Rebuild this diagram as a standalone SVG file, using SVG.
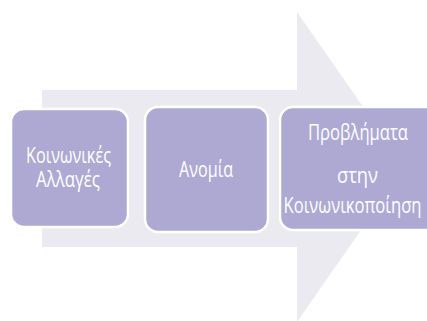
<svg xmlns="http://www.w3.org/2000/svg" width="427" height="321" viewBox="0 0 427 321">
<style>
.box{fill:#ada9d3;stroke:#ffffff;stroke-width:2.5}
.t{font-family:"Open Sans","Noto Sans","DejaVu Sans",sans-serif;font-size:22px;fill:#ffffff;text-anchor:middle}
</style>
<rect width="427" height="321" fill="#ffffff"/>
<g id="connectors">
<polygon points="42,90 297,90 297,12 405,167 297,322 297,247 42,247" fill="#ebeaf0"/>
</g>
<g id="node1">
<rect class="box" x="11" y="109" width="117" height="118" rx="13"/>
<text class="t" x="68.5" y="163" textLength="85" lengthAdjust="spacingAndGlyphs">Κοινωνικές</text>
<text class="t" x="68" y="187" textLength="64" lengthAdjust="spacingAndGlyphs">Αλλαγές</text>
</g>
<g id="node2">
<rect class="box" x="145" y="107" width="123" height="125" rx="13"/>
<text class="t" x="206" y="177" textLength="54" lengthAdjust="spacingAndGlyphs">Ανομία</text>
</g>
<g id="node3">
<path class="box" d="M293,107 H440 V230 H293 A13,13 0 0 1 280,217 V120 A13,13 0 0 1 293,107 Z"/>
<text class="t" x="358" y="140" textLength="100" lengthAdjust="spacingAndGlyphs">Προβλήματα</text>
<text class="t" x="357.5" y="183" textLength="41" lengthAdjust="spacingAndGlyphs">στην</text>
<text class="t" x="352.5" y="213" textLength="138" lengthAdjust="spacingAndGlyphs">Κοινωνικοποίηση</text>
</g>
</svg>
